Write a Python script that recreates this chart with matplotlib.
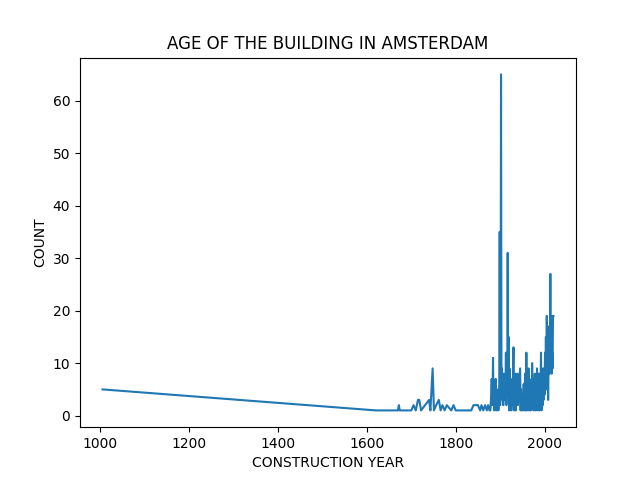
import matplotlib
matplotlib.use("Agg")
import matplotlib.pyplot as plt

years = [1005, 1620, 1670, 1672, 1674, 1700, 1705, 1710, 1715, 1718, 1722, 1740, 1743, 1748, 1751, 1756, 1762, 1766, 1770, 1775, 1780, 1790, 1795, 1800, 1815, 1835, 1840, 1850, 1855, 1858, 1862, 1866, 1870, 1873, 1876, 1878,
         1880, 1881, 1882, 1883, 1884, 1885, 1886, 1887, 1888, 1889, 1890, 1891, 1892, 1893, 1894, 1895, 1896, 1897, 1898, 1899,
         1900, 1901, 1902, 1903, 1904, 1905, 1906, 1907, 1908, 1909, 1910, 1911, 1912, 1913, 1914, 1915, 1916, 1917, 1918, 1919,
         1920, 1921, 1922, 1923, 1924, 1925, 1926, 1927, 1928, 1929, 1930, 1931, 1932, 1933, 1934, 1935, 1936, 1937, 1938, 1939,
         1940, 1945, 1946, 1947, 1948, 1949, 1950, 1951, 1952, 1953, 1954, 1955, 1956, 1957, 1958, 1959,
         1960, 1961, 1962, 1963, 1964, 1965, 1966, 1967, 1968, 1969, 1970, 1971, 1972, 1973, 1974, 1975, 1976, 1977, 1978, 1979,
         1980, 1981, 1982, 1983, 1984, 1985, 1986, 1987, 1988, 1989, 1990, 1991, 1992, 1993, 1994, 1995, 1996, 1997, 1998, 1999,
         2000, 2001, 2002, 2003, 2004, 2005, 2006, 2007, 2008, 2009, 2010, 2011, 2012, 2013, 2014, 2015, 2016, 2017, 2018, 2019, 2020]
counts = [5, 1, 1, 2, 1, 1, 2, 1, 3, 3, 1, 3, 1, 9, 1, 2, 3, 1, 2, 1, 2, 1, 2, 1, 1, 1, 2, 2, 1, 2, 1, 2, 1, 2, 1, 1,
          4, 7, 2, 5, 11, 3, 6, 1, 4, 2, 7, 3, 1, 5, 2, 4, 1, 3, 6, 35,
          2, 8, 65, 5, 9, 3, 6, 2, 8, 4, 7, 3, 5, 12, 2, 8, 4, 31, 6, 15,
          1, 9, 4, 2, 7, 1, 5, 3, 2, 8, 13, 1, 6, 3, 8, 1, 7, 4, 2, 8,
          2, 9, 1, 5, 2, 1, 1, 4, 2, 6, 1, 3, 8, 1, 2, 12,
          1, 5, 2, 4, 9, 1, 7, 3, 2, 1, 6, 2, 10, 3, 7, 1, 5, 2, 8, 1,
          3, 6, 2, 9, 1, 5, 3, 8, 1, 4, 2, 6, 12, 1, 5, 7, 2, 9, 3, 6,
          4, 12, 7, 15, 5, 19, 9, 13, 3, 11, 17, 8, 12, 27, 9, 19, 8, 12, 9, 19, 19]
pairs = sorted(zip(years, counts))
years = [p[0] for p in pairs][:len(counts)]
counts = [p[1] for p in pairs][:len(years)]

fig, ax = plt.subplots(figsize=(6.4, 4.8), dpi=100)
ax.plot(years, counts)
ax.set_title("AGE OF THE BUILDING IN AMSTERDAM")
ax.set_xlabel("CONSTRUCTION YEAR")
ax.set_ylabel("COUNT")
fig.savefig("out.png")
